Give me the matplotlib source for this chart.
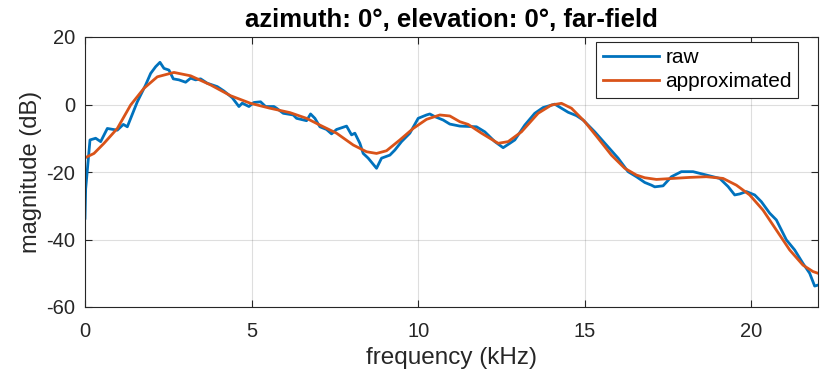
import matplotlib
matplotlib.use("Agg")
import matplotlib.pyplot as plt

raw_f = [0.0, 0.02, 0.15, 0.32, 0.47, 0.67, 0.97, 1.15, 1.27, 1.57, 1.82, 1.97, 2.12, 2.25,
         2.37, 2.52, 2.65, 2.82, 3.02, 3.17, 3.32, 3.47, 3.67, 3.97, 4.17, 4.42, 4.62, 4.72,
         4.92, 5.07, 5.27, 5.42, 5.67, 5.75, 5.95, 6.25, 6.35, 6.65, 6.77, 6.9, 7.05, 7.25,
         7.4, 7.55, 7.85, 8.0, 8.1, 8.25, 8.35, 8.5, 8.75, 8.9, 9.15, 9.3, 9.5, 9.75, 10.0,
         10.25, 10.35, 10.5, 10.75, 10.95, 11.25, 11.75, 12.0, 12.3, 12.55, 12.75, 12.9, 13.2,
         13.5, 13.75, 14.1, 14.3, 14.5, 14.75, 14.95, 15.3, 15.65, 16.0, 16.3, 16.55, 16.8,
         17.0, 17.1, 17.35, 17.6, 17.9, 18.25, 18.65, 19.05, 19.3, 19.5, 19.65, 19.85, 20.1,
         20.3, 20.55, 20.75, 21.05, 21.3, 21.55, 21.75, 21.9, 22.0]
raw_db = [-33.7, -25.0, -10.5, -10.0, -11.0, -7.1, -7.6, -5.9, -6.6, 0.8, 5.8, 9.2, 11.2, 12.5,
          10.7, 10.2, 7.6, 7.3, 6.6, 7.8, 7.3, 7.6, 6.3, 5.3, 4.0, 2.0, -0.6, 0.4,
          -0.6, 0.6, 0.8, -0.6, -0.6, -1.1, -2.6, -3.1, -4.1, -4.8, -2.8, -4.1, -6.6, -7.4,
          -8.7, -7.4, -6.4, -9.0, -8.5, -11.5, -14.5, -15.9, -18.9, -15.9, -15.0, -13.5, -11.0, -8.5, -4.1,
          -3.1, -2.8, -3.6, -4.6, -5.8, -6.4, -6.6, -8.1, -11.0, -12.8, -11.5, -10.5, -6.1,
          -2.6, -0.9, 0.1, -1.1, -2.3, -3.3, -4.6, -8.1, -12.0, -15.9, -19.9, -21.4, -23.1,
          -23.9, -24.4, -24.1, -21.4, -19.9, -19.9, -20.9, -21.9, -24.3, -26.8, -26.5, -25.8, -26.8,
          -28.8, -32.2, -34.2, -40.1, -43.1, -47.1, -50.0, -53.8, -53.5]

apx_f = [0.0, 0.27, 0.57, 0.97, 1.37, 1.77, 2.17, 2.67, 3.17, 3.77, 4.37, 4.97, 5.55, 6.15,
         6.65, 7.05, 7.55, 8.05, 8.45, 8.75, 9.05, 9.45, 9.85, 10.25, 10.65, 10.95, 11.25,
         11.5, 11.9, 12.4, 12.7, 13.1, 13.6, 14.0, 14.3, 14.6, 15.0, 15.4, 15.8, 16.2, 16.55,
         16.8, 17.15, 17.65, 18.15, 18.65, 19.15, 19.55, 19.95, 20.35, 20.75, 21.15, 21.55,
         21.85, 22.0]
apx_db = [-15.8, -14.5, -11.5, -7.1, -0.15, 4.8, 8.2, 9.5, 8.5, 5.8, 2.6, 0.35, -1.1, -2.4,
          -4.1, -6.1, -8.5, -12.0, -14.0, -14.5, -13.7, -10.5, -7.1, -4.4, -3.1, -3.4, -5.1,
          -5.9, -8.5, -11.5, -11.0, -8.1, -2.6, -0.15, 0.35, -1.1, -5.1, -10.0, -15.0, -18.9, -20.9,
          -21.7, -22.2, -21.9, -21.6, -21.4, -21.9, -23.9, -26.8, -31.3, -37.2, -43.1, -47.6,
          -49.5, -50.0]

xticks = [0, 5, 10, 15, 20]
yticks = [-60, -40, -20, 0, 20]

plt.rcParams['font.family'] = ['Liberation Sans', 'DejaVu Sans']
plt.rcParams['axes.unicode_minus'] = False
fig = plt.figure(figsize=(8.31, 3.76), dpi=100)
ax = fig.add_axes([85/831, 1-307/376, 733/831, 270/376])

ax.plot(raw_f, raw_db, color='#0072BD', lw=2.0, label='raw')
ax.plot(apx_f, apx_db, color='#D95319', lw=2.0, label='approximated')

ax.set_xlim(0, 22)
ax.set_ylim(-60, 20)
ax.set_xticks(xticks)
ax.set_yticks(yticks)
ax.grid(True, color='#262626', alpha=0.15, lw=0.8)
ax.tick_params(direction='in', labelsize=14.5, colors='#262626', length=5, top=True, right=True,
               labeltop=False, labelright=False)
ax.tick_params(axis='y', pad=7)
ax.tick_params(axis='x', pad=11)
for s in ax.spines.values():
    s.set_color('#262626')
    s.set_linewidth(0.8)
ax.set_xlabel('frequency (kHz)', fontsize=17.5, color='#262626', labelpad=4)
ax.set_ylabel('magnitude (dB)', fontsize=17, color='#262626', labelpad=3)
ax.set_title('azimuth: 0°, elevation: 0°, far-field', fontsize=18.5, fontweight='bold',
             color='#000000', pad=7)
leg = ax.legend(loc='upper right', bbox_to_anchor=((798-85)/733, 1-(42-37)/270), fontsize=15,
                fancybox=False, edgecolor='#262626', framealpha=1, handlelength=2.7,
                borderpad=0.3, labelspacing=0.25, borderaxespad=0.0, handletextpad=0.3)
leg.get_frame().set_linewidth(0.8)

fig.savefig('out.png', dpi=100)
